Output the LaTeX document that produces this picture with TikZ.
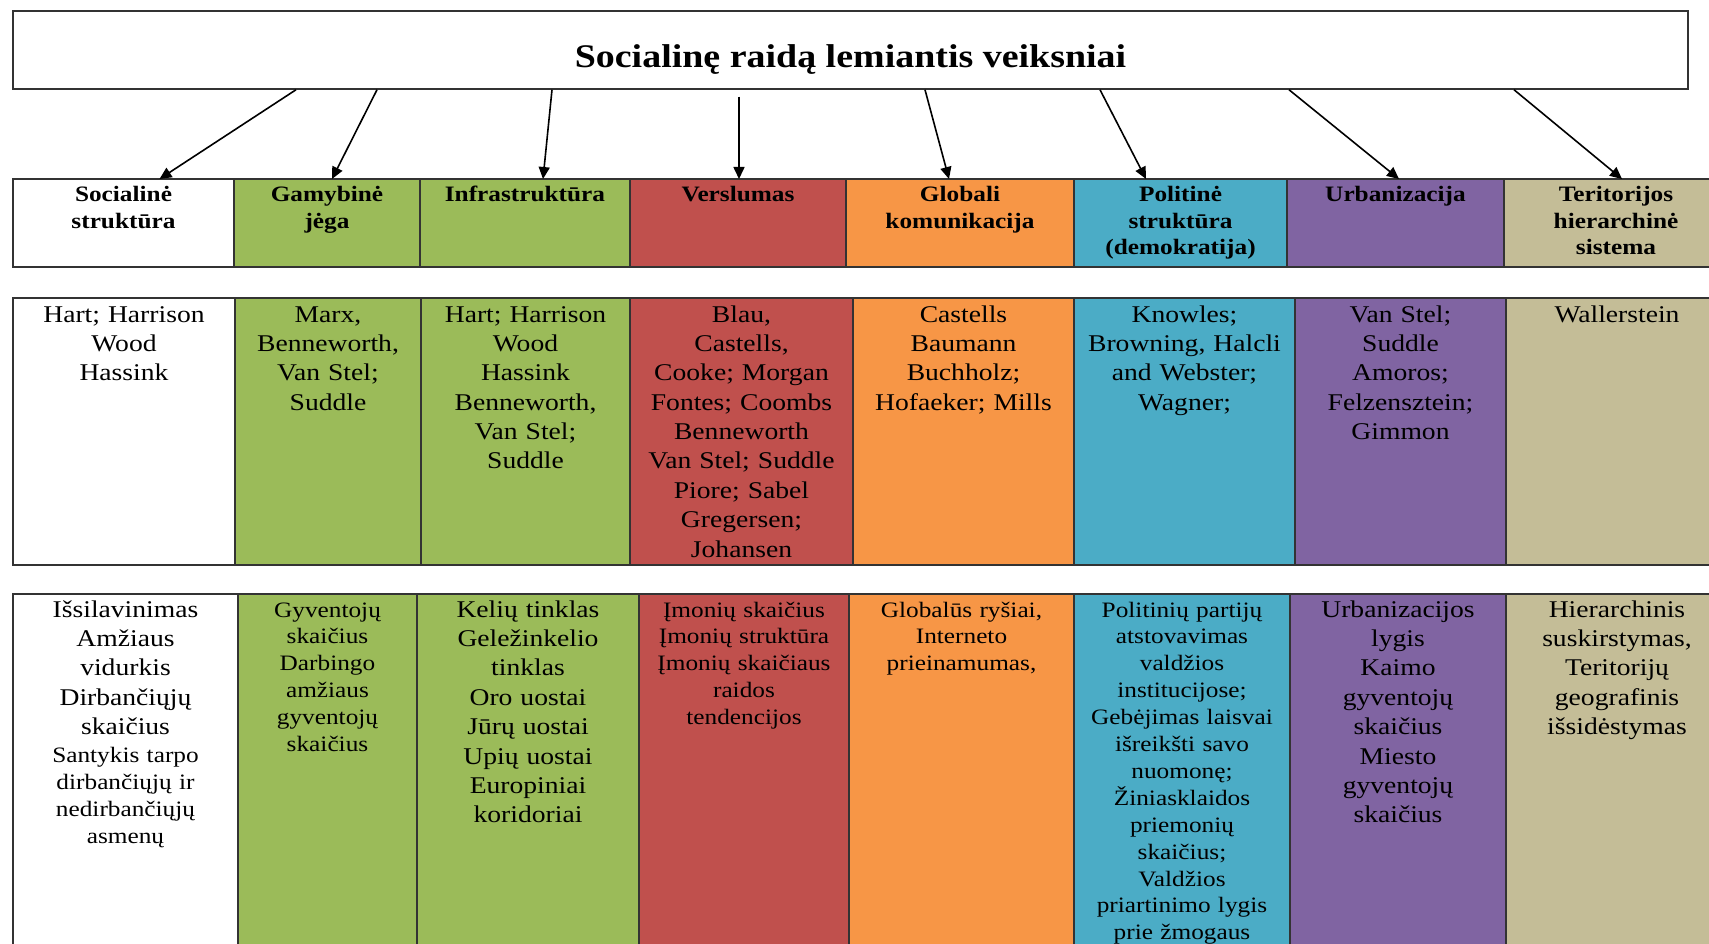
\documentclass[tikz,border=0pt]{standalone}
\usepackage{fontspec}
\setmainfont[FakeStretch=1.15]{Liberation Serif}
\usetikzlibrary{arrows.meta}

\definecolor{ogreen}{HTML}{9BBB59}
\definecolor{ored}{HTML}{C0504D}
\definecolor{oorange}{HTML}{F79646}
\definecolor{oblue}{HTML}{4BACC6}
\definecolor{opurple}{HTML}{8064A2}
\definecolor{otan}{HTML}{C4BD97}

\begin{document}
\begin{tikzpicture}[x=1pt,y=-1pt,
    tabbox/.style={draw=black!80,line width=1.5pt,anchor=north west,
      inner sep=0pt,outer sep=0pt},
    hdbox/.style={tabbox,minimum height=88pt},
    aubox/.style={tabbox,minimum height=267pt},
    inbox/.style={tabbox,minimum height=380pt},
    celltext/.style={anchor=base,align=center,inner sep=0pt,text width=215pt},
    hdtext/.style={celltext,font=\bfseries\fontsize{22}{26.5}\selectfont},
    bigtext/.style={celltext,font=\fontsize{24}{29.4}\selectfont},
    smalltext/.style={celltext,font=\fontsize{22}{26.9}\selectfont},
    link/.style={-{Triangle[length=12pt,width=11pt]},line width=1.6pt}]
  \useasboundingbox (0,0) rectangle (1709,944);
  \clip (0,0) rectangle (1709,944);

  % --- Title ---
  \node[draw=black!80,line width=1.5pt,minimum width=1675pt,minimum height=78pt,
    text height=36pt,text depth=0pt,font=\bfseries\fontsize{33}{40}\selectfont]
    (title) at (850.5,50) {Socialinę raidą lemiantis veiksniai};

  % --- Factors ---
  \node[hdbox,fill=white,minimum width=221pt] (h1) at (13,179) {};
  \node[hdbox,fill=ogreen,minimum width=186pt] (h2) at (234,179) {};
  \node[hdbox,fill=ogreen,minimum width=210pt] (h3) at (420,179) {};
  \node[hdbox,fill=ored,minimum width=216pt] (h4) at (630,179) {};
  \node[hdbox,fill=oorange,minimum width=228pt] (h5) at (846,179) {};
  \node[hdbox,fill=oblue,minimum width=213pt] (h6) at (1074,179) {};
  \node[hdbox,fill=opurple,minimum width=217pt] (h7) at (1287,179) {};
  \node[hdbox,fill=otan,minimum width=224pt] (h8) at (1504,179) {};
  \node[hdtext] (h1t) at ([yshift=-23pt]h1.north) {Socialinė\\struktūra};
  \node[hdtext] (h2t) at ([yshift=-23pt]h2.north) {Gamybinė\\jėga};
  \node[hdtext] (h3t) at ([yshift=-23pt]h3.north) {Infrastruktūra};
  \node[hdtext] (h4t) at ([yshift=-23pt]h4.north) {Verslumas};
  \node[hdtext] (h5t) at ([yshift=-23pt]h5.north) {Globali\\komunikacija};
  \node[hdtext] (h6t) at ([yshift=-23pt]h6.north) {Politinė\\struktūra\\(demokratija)};
  \node[hdtext] (h7t) at ([yshift=-23pt]h7.north) {Urbanizacija};
  \node[hdtext] (h8t) at ([yshift=-23pt]h8.north) {Teritorijos\\hierarchinė\\sistema};

  % --- Arrows ---
  \draw[link] ([xshift=-554.5pt]title.south) -- ([xshift=36pt]h1.north);
  \draw[link] ([xshift=-473.5pt]title.south) -- ([xshift=5pt]h2.north);
  \draw[link] ([xshift=-298.5pt]title.south) -- ([xshift=18pt]h3.north);
  \draw[link] ([xshift=-111.5pt,yshift=-7pt]title.south) -- ([xshift=1pt]h4.north);
  \draw[link] ([xshift=74.5pt]title.south) -- ([xshift=-11pt]h5.north);
  \draw[link] ([xshift=249.5pt]title.south) -- ([xshift=-34.5pt]h6.north);
  \draw[link] ([xshift=438.5pt]title.south) -- ([xshift=3.5pt]h7.north);
  \draw[link] ([xshift=663.5pt]title.south) -- ([xshift=6pt]h8.north);

  % --- Authors ---
  \node[aubox,fill=white,minimum width=222pt] (a1) at (13,298) {};
  \node[aubox,fill=ogreen,minimum width=186pt] (a2) at (235,298) {};
  \node[aubox,fill=ogreen,minimum width=209pt] (a3) at (421,298) {};
  \node[aubox,fill=ored,minimum width=223pt] (a4) at (630,298) {};
  \node[aubox,fill=oorange,minimum width=221pt] (a5) at (853,298) {};
  \node[aubox,fill=oblue,minimum width=221pt] (a6) at (1074,298) {};
  \node[aubox,fill=opurple,minimum width=211pt] (a7) at (1295,298) {};
  \node[aubox,fill=otan,minimum width=222pt] (a8) at (1506,298) {};
  \node[bigtext] (a1t) at ([yshift=-24pt]a1.north) {Hart; Harrison\\Wood\\Hassink};
  \node[bigtext] (a2t) at ([yshift=-24pt]a2.north) {Marx,\\Benneworth,\\Van Stel;\\Suddle};
  \node[bigtext] (a3t) at ([yshift=-24pt]a3.north)
    {Hart; Harrison\\Wood\\Hassink\\Benneworth,\\Van Stel;\\Suddle};
  \node[bigtext] (a4t) at ([yshift=-24pt]a4.north)
    {Blau,\\Castells,\\Cooke; Morgan\\Fontes; Coombs\\Benneworth\\Van Stel; Suddle\\Piore; Sabel\\Gregersen;\\Johansen};
  \node[bigtext] (a5t) at ([yshift=-24pt]a5.north) {Castells\\Baumann\\Buchholz;\\Hofaeker; Mills};
  \node[bigtext] (a6t) at ([yshift=-24pt]a6.north) {Knowles;\\Browning, Halcli\\and Webster;\\Wagner;};
  \node[bigtext] (a7t) at ([yshift=-24pt]a7.north) {Van Stel;\\Suddle\\Amoros;\\Felzensztein;\\Gimmon};
  \node[bigtext] (a8t) at ([yshift=-24pt]a8.north) {Wallerstein};

  % --- Indicators ---
  \node[inbox,fill=white,minimum width=225pt] (m1) at (13,594) {};
  \node[inbox,fill=ogreen,minimum width=179pt] (m2) at (238,594) {};
  \node[inbox,fill=ogreen,minimum width=222pt] (m3) at (417,594) {};
  \node[inbox,fill=ored,minimum width=210pt] (m4) at (639,594) {};
  \node[inbox,fill=oorange,minimum width=225pt] (m5) at (849,594) {};
  \node[inbox,fill=oblue,minimum width=216pt] (m6) at (1074,594) {};
  \node[inbox,fill=opurple,minimum width=216pt] (m7) at (1290,594) {};
  \node[inbox,fill=otan,minimum width=222pt] (m8) at (1506,594) {};
  \node[bigtext] (m1t) at ([yshift=-23pt]m1.north)
    {Išsilavinimas\\Amžiaus\\vidurkis\\Dirbančiųjų\\skaičius};
  \node[smalltext] (m1s) at ([yshift=-168.6pt]m1.north)
    {Santykis tarpo\\dirbančiųjų ir\\nedirbančiųjų\\asmenų};
  \node[smalltext] (m2t) at ([yshift=-23pt]m2.north)
    {Gyventojų\\skaičius\\Darbingo\\amžiaus\\gyventojų\\skaičius};
  \node[bigtext] (m3t) at ([yshift=-23pt]m3.north)
    {Kelių tinklas\\Geležinkelio\\tinklas\\Oro uostai\\Jūrų uostai\\Upių uostai\\Europiniai\\koridoriai};
  \node[smalltext] (m4t) at ([yshift=-23pt]m4.north)
    {Įmonių skaičius\\Įmonių struktūra\\Įmonių skaičiaus\\raidos\\tendencijos};
  \node[smalltext] (m5t) at ([yshift=-23pt]m5.north) {Globalūs ryšiai,\\Interneto\\prieinamumas,};
  \node[smalltext] (m6t) at ([yshift=-23pt]m6.north)
    {Politinių partijų\\atstovavimas\\valdžios\\institucijose;\\Gebėjimas laisvai\\išreikšti savo\\nuomonę;\\Žiniasklaidos\\priemonių\\skaičius;\\Valdžios\\priartinimo lygis\\prie žmogaus};
  \node[bigtext] (m7t) at ([yshift=-23pt]m7.north)
    {Urbanizacijos\\lygis\\Kaimo\\gyventojų\\skaičius\\Miesto\\gyventojų\\skaičius};
  \node[bigtext] (m8t) at ([yshift=-23pt]m8.north)
    {Hierarchinis\\suskirstymas,\\Teritorijų\\geografinis\\išsidėstymas};
\end{tikzpicture}
\end{document}
